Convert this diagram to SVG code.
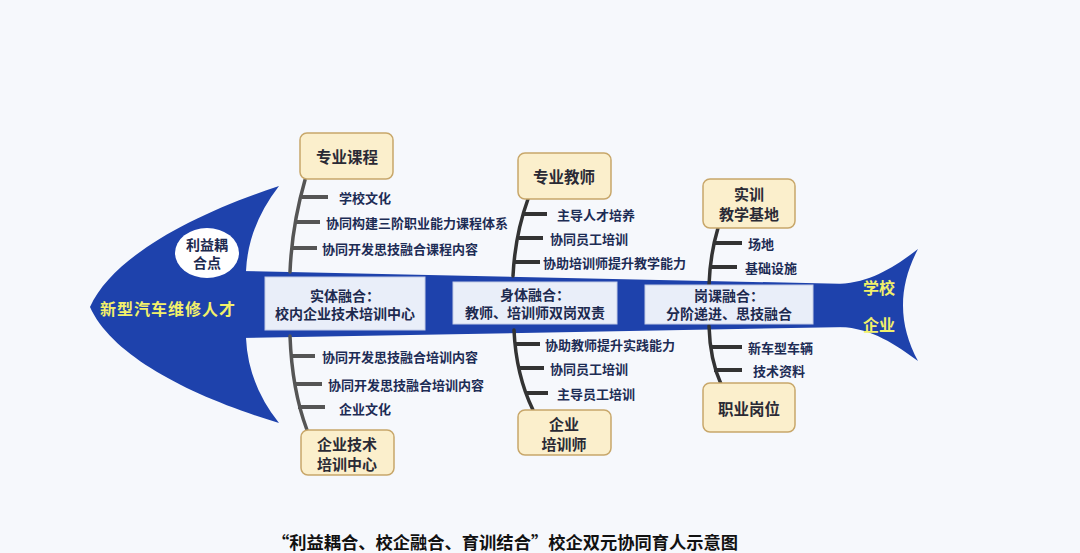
<svg xmlns="http://www.w3.org/2000/svg" width="1080" height="553" viewBox="0 0 1080 553">
<style>
text{font-family:"Noto Sans CJK SC","Noto Sans",sans-serif;font-weight:bold;dominant-baseline:central}
.fish{fill:#1e42ac}
.inner{fill:#e9eef9;stroke:#c3cce6;stroke-width:1}
.inner-t{font-size:14px;fill:#1d2a4f;text-anchor:middle}
.cat{fill:#fbefcc;stroke:#c8a76a;stroke-width:1.5}
.cat-t{font-size:15px;fill:#2a2a35;text-anchor:middle}
.cat-s{font-size:15.5px;fill:#2a2a35;text-anchor:middle}
.bone{fill:none;stroke:#333;stroke-width:3.5;stroke-linecap:round}
.bone1{stroke:#555}
.tick{stroke:#333;stroke-width:4}
.tick1{stroke:#555}
.lbl{font-size:13px;fill:#1d2c55}
.yel{fill:#f2f06a;font-size:16px}
</style>
<rect width="1080" height="553" fill="#f6f8fc"/>
<g id="fish-body">
<path class="fish" d="M90,307 C112,258 190,215 279,186 Q248,226 246,271 L246,338 Q248,384 279,423 C190,396 112,356 90,307 Z"/>
<path class="fish" d="M240,271 L850,284 L850,327 L240,338 Z"/>
<path class="fish" d="M840,284 C872,282 896,266 918,249 C898,287 898,324 918,361 C896,345 872,328 840,327 Z"/>
<text class="yel" x="168" y="308" text-anchor="middle" letter-spacing="1">新型汽车维修人才</text>
<text class="yel" x="879" y="287" text-anchor="middle">学校</text>
<text class="yel" x="879" y="324" text-anchor="middle">企业</text>
</g>
<g id="node-liyi">
<ellipse cx="207" cy="253" rx="32" ry="25" fill="#ffffff"/>
<text x="207" y="244" text-anchor="middle" font-size="14" fill="#1d2a4f">利益耦</text>
<text x="207" y="262" text-anchor="middle" font-size="14" fill="#1d2a4f">合点</text>
</g>
<g id="connectors">
<path class="bone bone1" d="M305,180 Q292,225 290,272"/>
<path class="bone bone1" d="M290,336 Q292,390 307,430"/>
<path class="bone" d="M528,199 Q515,235 513,276"/>
<path class="bone" d="M514,330 Q516,375 533,410"/>
<path class="bone" d="M718,228 Q710,255 709,285"/>
<path class="bone" d="M709,326 Q710,360 721,384"/>
<g class="tick tick1">
<line x1="302" y1="197" x2="328" y2="197"/>
<line x1="296" y1="222" x2="320" y2="222"/>
<line x1="292" y1="248" x2="317" y2="248"/>
<line x1="291" y1="356" x2="315" y2="356"/>
<line x1="294" y1="384" x2="322" y2="384"/>
<line x1="298" y1="407" x2="325" y2="407"/>
</g>
<g class="tick">
<line x1="523" y1="214" x2="547" y2="214"/>
<line x1="519" y1="238" x2="543" y2="238"/>
<line x1="515" y1="262" x2="540" y2="262"/>
<line x1="515" y1="344" x2="540" y2="344"/>
<line x1="519" y1="368" x2="544" y2="368"/>
<line x1="525" y1="393" x2="548" y2="393"/>
<line x1="713" y1="243" x2="742" y2="243"/>
<line x1="710" y1="267" x2="737" y2="267"/>
<line x1="710" y1="347" x2="742" y2="347"/>
<line x1="714" y1="370" x2="742" y2="370"/>
</g>
</g>
<g id="labels">
<text class="lbl" x="339" y="197">学校文化</text>
<text class="lbl" x="326" y="222">协同构建三阶职业能力课程体系</text>
<text class="lbl" x="322" y="248">协同开发思技融合课程内容</text>
<text class="lbl" x="322" y="356">协同开发思技融合培训内容</text>
<text class="lbl" x="328" y="384">协同开发思技融合培训内容</text>
<text class="lbl" x="339" y="408">企业文化</text>
<text class="lbl" x="557" y="214">主导人才培养</text>
<text class="lbl" x="550" y="238">协同员工培训</text>
<text class="lbl" x="543" y="262">协助培训师提升教学能力</text>
<text class="lbl" x="545" y="344">协助教师提升实践能力</text>
<text class="lbl" x="550" y="368">协同员工培训</text>
<text class="lbl" x="557" y="393">主导员工培训</text>
<text class="lbl" x="748" y="243">场地</text>
<text class="lbl" x="745" y="267">基础设施</text>
<text class="lbl" x="748" y="347">新车型车辆</text>
<text class="lbl" x="753" y="370">技术资料</text>
</g>
<g id="node-shiti">
<rect class="inner" x="265" y="277" width="160" height="53"/>
<text class="inner-t" x="345" y="295">实体融合：</text>
<text class="inner-t" x="345" y="313">校内企业技术培训中心</text>
</g>
<g id="node-shenti">
<rect class="inner" x="453" y="282" width="164" height="42"/>
<text class="inner-t" x="535" y="294">身体融合：</text>
<text class="inner-t" x="535" y="312">教师、培训师双岗双责</text>
</g>
<g id="node-gangke">
<rect class="inner" x="645" y="285" width="168" height="39"/>
<text class="inner-t" x="729" y="295">岗课融合：</text>
<text class="inner-t" x="729" y="313">分阶递进、思技融合</text>
</g>
<g id="node-kecheng">
<rect class="cat" x="300" y="133" width="93" height="46" rx="7"/>
<text class="cat-s" x="347" y="156">专业课程</text>
</g>
<g id="node-jiaoshi">
<rect class="cat" x="518" y="153" width="93" height="46" rx="7"/>
<text class="cat-s" x="564" y="176">专业教师</text>
</g>
<g id="node-jidi">
<rect class="cat" x="703" y="179" width="92" height="49" rx="7"/>
<text class="cat-t" x="749" y="193.5">实训</text>
<text class="cat-t" x="749" y="213.5">教学基地</text>
</g>
<g id="node-zhongxin">
<rect class="cat" x="301" y="430" width="93" height="45" rx="7"/>
<text class="cat-t" x="347" y="443">企业技术</text>
<text class="cat-t" x="347" y="463">培训中心</text>
</g>
<g id="node-peixunshi">
<rect class="cat" x="518" y="410" width="93" height="45" rx="7"/>
<text class="cat-t" x="564" y="423">企业</text>
<text class="cat-t" x="564" y="443">培训师</text>
</g>
<g id="node-gangwei">
<rect class="cat" x="703" y="383" width="92" height="49" rx="7"/>
<text class="cat-s" x="749" y="408">职业岗位</text>
</g>
<text x="272" y="541" font-size="17" fill="#111" textLength="466" lengthAdjust="spacingAndGlyphs">“利益耦合、校企融合、育训结合”校企双元协同育人示意图</text>
</svg>
